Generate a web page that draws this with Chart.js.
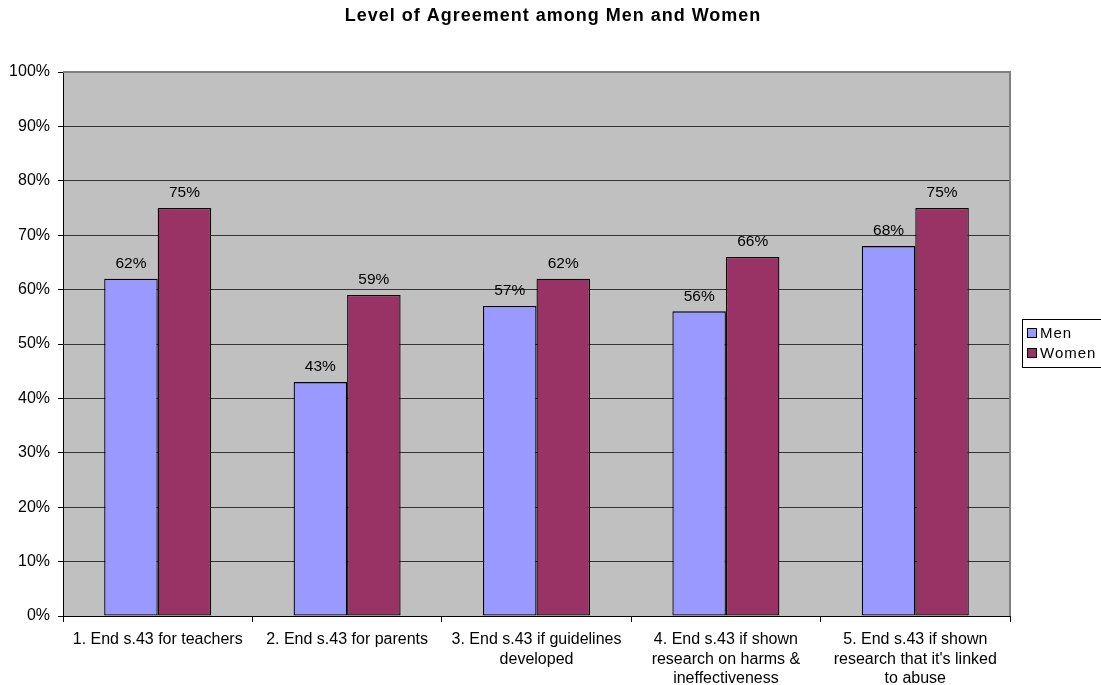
<!DOCTYPE html>
<html>
<head>
<meta charset="utf-8">
<script src="https://cdn.jsdelivr.net/npm/chart.js@4/dist/chart.umd.min.js"></script>
<style>
  body { margin: 0; background: #fff; }
  #wrap { width: 1101px; height: 685px; }
</style>
</head>
<body>
<div id="wrap"><canvas id="agreeChart"></canvas></div>
<script>
// data
const categories = [
    ['1. End s.43 for teachers'],
    ['2. End s.43 for parents'],
    ['3. End s.43 if guidelines', 'developed'],
    ['4. End s.43 if shown', 'research on harms &', 'ineffectiveness'],
    ['5. End s.43 if shown', "research that it's linked", 'to abuse']
];
const seriesNames = ['Men', 'Women'];
const menValues = [62, 43, 57, 56, 68];
const womenValues = [75, 59, 62, 66, 75];
const chartTitle = 'Level of Agreement among Men and Women';

const menColor = '#9999FF';
const womenColor = '#993366';
const FONT = '"Liberation Sans", Arial, sans-serif';

// gray plot area + frame
const plotArea = {
    id: 'plotArea',
    beforeDraw(chart) {
        const a = chart.chartArea, ctx = chart.ctx;
        ctx.save();
        ctx.fillStyle = '#C0C0C0';
        ctx.fillRect(a.left, a.top, a.right - a.left, a.bottom - a.top);
        ctx.restore();
    },
    afterDraw(chart) {
        const a = chart.chartArea, ctx = chart.ctx;
        ctx.save();
        ctx.strokeStyle = '#808080';
        ctx.lineWidth = 2;
        ctx.beginPath();
        ctx.moveTo(a.left, a.top);
        ctx.lineTo(a.right, a.top);
        ctx.lineTo(a.right, a.bottom);
        ctx.stroke();
        ctx.restore();
    }
};

// percentage labels over bars
const barLabels = {
    id: 'barLabels',
    afterDatasetsDraw(chart) {
        const ctx = chart.ctx;
        ctx.save();
        ctx.font = '15.5px ' + FONT;
        ctx.fillStyle = '#000';
        ctx.textAlign = 'center';
        ctx.textBaseline = 'middle';
        chart.data.datasets.forEach((ds, i) => {
            chart.getDatasetMeta(i).data.forEach((bar, j) => {
                ctx.fillText(ds.data[j] + '%', bar.x, bar.y - 15);
            });
        });
        ctx.restore();
    }
};

// title and boxed legend drawn by hand
const titleAndLegend = {
    id: 'titleAndLegend',
    afterDraw(chart) {
        const ctx = chart.ctx;
        ctx.save();
        ctx.fillStyle = '#000';
        ctx.font = 'bold 18px ' + FONT;
        ctx.letterSpacing = '1px';
        ctx.textAlign = 'center';
        ctx.textBaseline = 'middle';
        ctx.fillText(chartTitle, 553, 16);

        ctx.strokeStyle = '#000';
        ctx.lineWidth = 1;
        ctx.strokeRect(1022.5, 319.5, 90, 48);
        ctx.font = '15px ' + FONT;
        ctx.letterSpacing = '1px';
        ctx.textAlign = 'left';
        chart.data.datasets.forEach((ds, i) => {
            const y = 333 + i * 20;
            ctx.fillStyle = ds.backgroundColor;
            ctx.fillRect(1027.5, y - 4.5, 9, 9);
            ctx.strokeRect(1027.5, y - 4.5, 9, 9);
            ctx.fillStyle = '#000';
            ctx.fillText(seriesNames[i], 1040, y + 1);
        });
        ctx.restore();
    }
};

const ctxAgree = document.getElementById('agreeChart').getContext('2d');
const agreeChart = new Chart(ctxAgree, {
    type: 'bar',
    data: {
        labels: categories,
        datasets: [{
            label: seriesNames[0],
            data: menValues,
            backgroundColor: menColor,
            borderColor: '#000',
            borderWidth: 1.3,
            borderSkipped: false
        }, {
            label: seriesNames[1],
            data: womenValues,
            backgroundColor: womenColor,
            borderColor: '#000',
            borderWidth: 1.3,
            borderSkipped: false
        }]
    },
    options: {
        responsive: true,
        maintainAspectRatio: false,
        animation: false,
        layout: { padding: { top: 72, right: 91, left: 0, bottom: 0 } },
        datasets: { bar: { categoryPercentage: 0.565, barPercentage: 1 } },
        plugins: {
            legend: { display: false },
            title: { display: false },
            tooltip: { enabled: false }
        },
        scales: {
            x: {
                afterFit(scale) { scale.height = 69; },
                grid: { offset: true, drawOnChartArea: false, tickLength: 6, color: '#000' },
                border: { color: '#000' },
                ticks: {
                    color: '#000',
                    font: { size: 16, family: FONT, lineHeight: 1.22 },
                    maxRotation: 0,
                    autoSkip: false,
                    padding: 8
                }
            },
            y: {
                min: 0,
                max: 100,
                afterFit(scale) { scale.width = 63; },
                grid: { color: '#333', tickLength: 5, tickColor: '#000' },
                border: { color: '#000' },
                ticks: {
                    stepSize: 10,
                    color: '#000',
                    padding: 8,
                    font: { size: 16, family: FONT },
                    callback: v => v + '%'
                }
            }
        }
    },
    plugins: [plotArea, barLabels, titleAndLegend]
});
</script>
</body>
</html>
